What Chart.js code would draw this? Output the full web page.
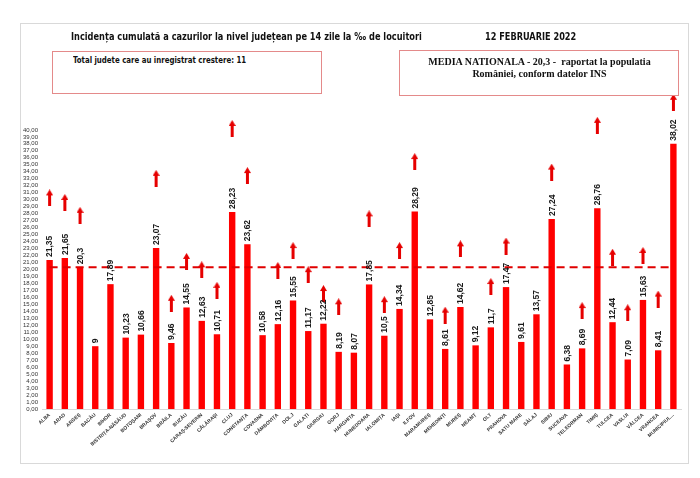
<!DOCTYPE html>
<html>
<head>
<meta charset="utf-8">
<script src="https://cdn.jsdelivr.net/npm/chart.js@4.4.1/dist/chart.umd.min.js"></script>
<style>
  html, body { margin: 0; padding: 0; background: #fff; }
  #wrap { position: relative; width: 700px; height: 478px; overflow: hidden; }
  #c { position: absolute; left: 0; top: 0; }
  .frame { position: absolute; left: 20px; top: 23px; width: 667px; height: 439px; border: 1px solid #d9d9d9; }
  .txt { position: absolute; white-space: nowrap; color: #111; transform-origin: 0 50%; }
  #title { left: 71px; top: 31px; font: bold 10px "Liberation Sans Narrow", "DejaVu Sans Condensed", sans-serif; transform: scaleX(0.915); }
  #date { left: 485px; top: 31px; font: bold 10px "Liberation Sans Narrow", "DejaVu Sans Condensed", sans-serif; transform: scaleX(0.91); }
  .box { position: absolute; border: 1.5px solid #e48a8a; background: #fff; }
  #boxL { left: 52px; top: 51px; width: 268px; height: 41px; }
  #boxR { left: 399px; top: 50px; width: 278px; height: 44px; }
  #boxLtxt { left: 73px; top: 55px; font: bold 9px "Liberation Sans Narrow", "DejaVu Sans Condensed", sans-serif; transform: scaleX(0.865); }
  #boxRtxt { left: 399px; top: 56px; width: 281px; text-align: center; font: bold 10px "Liberation Serif", serif; line-height: 12px; }
</style>
</head>
<body>
<div id="wrap">
  <div class="frame"></div>
  <canvas id="c" width="700" height="478"></canvas>
  <div class="txt" id="title">Incidența cumulată a cazurilor la nivel județean pe 14 zile la ‰ de locuitori</div>
  <div class="txt" id="date">12 FEBRUARIE 2022</div>
  <div class="box" id="boxL"></div>
  <div class="txt" id="boxLtxt">Total judete care au inregistrat crestere: 11</div>
  <div class="box" id="boxR"></div>
  <div class="txt" id="boxRtxt">MEDIA NATIONALA - 20,3 -&nbsp; raportat la populatia<br>României, conform datelor INS</div>
</div>
<script>
const categories = ["ALBA","ARAD","ARGEȘ","BACĂU","BIHOR","BISTRIȚA-NĂSĂUD","BOTOȘANI","BRAȘOV","BRĂILA","BUZĂU",
  "CARAȘ-SEVERIN","CĂLĂRAȘI","CLUJ","CONSTANȚA","COVASNA","DÂMBOVIȚA","DOLJ","GALAȚI","GIURGIU","GORJ",
  "HARGHITA","HUNEDOARA","IALOMIȚA","IAȘI","ILFOV","MARAMUREȘ","MEHEDINȚI","MUREȘ","NEAMȚ","OLT",
  "PRAHOVA","SATU MARE","SĂLAJ","SIBIU","SUCEAVA","TELEORMAN","TIMIȘ","TULCEA","VASLUI","VÂLCEA",
  "VRANCEA","MUNICIPIUL..."];
const incidence = [21.35,21.65,20.3,9,17.89,10.23,10.66,23.07,9.46,14.55,
  12.63,10.71,28.23,23.62,10.58,12.16,15.55,11.17,12.22,8.19,
  8.07,17.85,10.5,14.34,28.29,12.85,8.61,14.62,9.12,11.7,
  17.47,9.61,13.57,27.24,6.38,8.69,28.76,12.44,7.09,15.63,
  8.41,38.02];
// red "increase" arrow markers (value at arrow centre), null = no arrow
const arrowMarks = [30.25,29.6,27.75,null,null,null,null,33.05,15.15,21.15,
  19.95,17.0,40.2,33.45,null,19.85,22.7,19.25,16.55,14.65,
  null,27.25,14.95,22.7,35.45,null,13.45,22.95,null,17.55,
  23.35,null,null,33.95,null,14.1,40.65,21.75,13.8,22.0,
  15.75,43.95];
const nationalMean = 20.3;
const yTickMax = 40;

// arrow glyph used as point style
function makeArrow() {
  const cv = document.createElement('canvas');
  cv.width = 7; cv.height = 17;
  const g = cv.getContext('2d');
  g.fillStyle = '#e60000';
  g.beginPath(); g.moveTo(3.5, 0); g.lineTo(7, 6); g.lineTo(0, 6); g.closePath(); g.fill();
  g.fillRect(2, 5.5, 3, 11.5);
  return cv;
}
const arrowImg = makeArrow();

const fmt = v => String(v).replace('.', ',');

const valueLabels = {
  id: 'valueLabels',
  afterDatasetsDraw(chart) {
    const meta = chart.getDatasetMeta(0);
    const ctx = chart.ctx;
    ctx.save();
    ctx.fillStyle = '#1a1a1a';
    ctx.font = 'bold 8.5px "Liberation Sans", sans-serif';
    ctx.textAlign = 'left';
    ctx.textBaseline = 'middle';
    meta.data.forEach((el, i) => {
      ctx.save();
      ctx.translate(el.x, el.y - 3);
      ctx.rotate(-Math.PI / 2);
      ctx.fillText(fmt(incidence[i]), 0, 0.5);
      ctx.restore();
    });
    ctx.restore();
  }
};

new Chart(document.getElementById('c'), {
  data: {
    labels: categories,
    datasets: [
      { type: 'bar', data: incidence, backgroundColor: '#ff0000', barPercentage: 0.42, categoryPercentage: 1, order: 3 },
      { type: 'line', data: categories.map(() => nationalMean), borderColor: '#e00000', borderWidth: 2,
        borderDash: [8, 5], pointRadius: 0, fill: false, order: 2 },
      { type: 'line', data: arrowMarks, showLine: false, pointStyle: arrowImg, pointRadius: 8,
        clip: false, order: 1 }
    ]
  },
  options: {
    responsive: false,
    animation: false,
    events: [],
    layout: { padding: { left: 0, right: 19, top: 88, bottom: 0 } },
    plugins: { legend: { display: false }, tooltip: { enabled: false }, title: { display: false } },
    scales: {
      x: {
        offset: true,
        grid: { display: false, drawTicks: false },
        border: { display: true, color: '#d9d9d9', width: 1 },
        ticks: {
          autoSkip: false, maxRotation: 42, minRotation: 42, padding: 3,
          color: '#333', font: { family: 'Liberation Sans', weight: 'bold', size: 5 }
        },
        afterFit(s) { s.height = 69; s.paddingLeft = 0; s.paddingRight = 0; }
      },
      y: {
        min: 0, max: 46,
        grid: { display: false, drawTicks: false },
        border: { display: false },
        ticks: {
          stepSize: 1, autoSkip: false, padding: 4, color: '#333',
          font: { family: 'Liberation Sans', size: 6 },
          callback: v => v.toFixed(2).replace('.', ',')
        },
        afterBuildTicks(s) { s.ticks = s.ticks.filter(t => t.value <= yTickMax); },
        afterFit(s) { s.width = 42; s.paddingTop = 0; s.paddingBottom = 0; }
      }
    }
  },
  plugins: [valueLabels]
});
</script>
</body>
</html>
